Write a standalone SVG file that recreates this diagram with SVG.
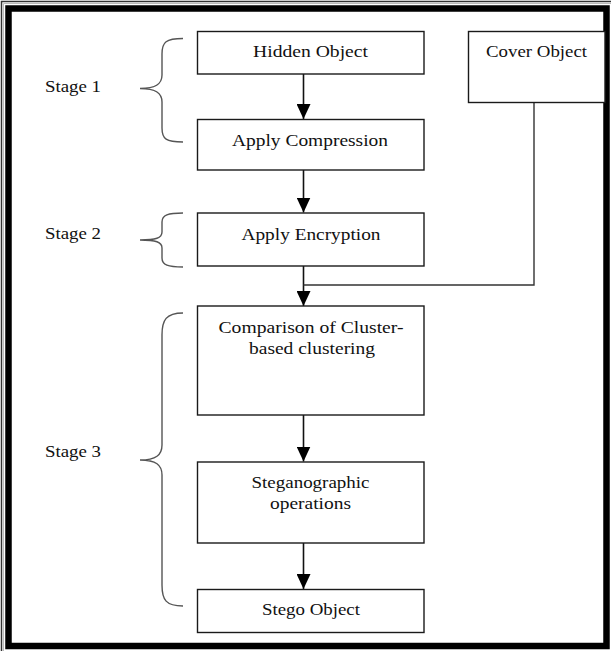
<svg xmlns="http://www.w3.org/2000/svg" width="611" height="651" viewBox="0 0 611 651">
<style>
.box{fill:#fff;stroke:#1a1a1a;stroke-width:1.4}
.lbl{font-family:"Liberation Serif","Times New Roman",serif;font-size:17px;fill:#111;text-anchor:middle}
.stg{font-family:"Liberation Serif","Times New Roman",serif;font-size:17px;fill:#111}
.con{fill:none;stroke:#111;stroke-width:1.6}
.brace{fill:none;stroke:#555;stroke-width:1.4}
</style>
<defs>
<marker id="ah" markerUnits="userSpaceOnUse" markerWidth="16" markerHeight="14" refX="15" refY="7" orient="auto" viewBox="0 0 16 14">
<path d="M0,0 L15,7 L0,14 Z" fill="#000"/>
</marker>
</defs>
<rect x="0" y="0" width="611" height="651" fill="#fff"/>
<g id="frame">
<path d="M1.5,651 L1.5,1.5 L611,1.5" fill="none" stroke="#333" stroke-width="1.5"/>
<path d="M3.5,651 L3.5,3.5 L611,3.5" fill="none" stroke="#bbb" stroke-width="1"/>
<rect x="8.5" y="8.5" width="598" height="637.5" fill="none" stroke="#000" stroke-width="6.5"/>
</g>
<g id="connectors">
<line class="con" x1="303.5" y1="74" x2="303.5" y2="119" marker-end="url(#ah)"/>
<line class="con" x1="303.5" y1="170" x2="303.5" y2="212.5" marker-end="url(#ah)"/>
<line class="con" x1="303.5" y1="266" x2="303.5" y2="306" marker-end="url(#ah)"/>
<line class="con" x1="303.5" y1="415" x2="303.5" y2="461.5" marker-end="url(#ah)"/>
<line class="con" x1="303.5" y1="543" x2="303.5" y2="589" marker-end="url(#ah)"/>
<path class="con" d="M534,103 L534,285 L303.5,285" style="stroke:#333;stroke-width:1.4"/>
</g>
<g id="brace1">
<path class="brace" d="M183,38.5 C166,38.5 162,42 162,54 L162,75 C162,84 156,88.5 140,88.5 C156,88.5 162,93 162,102 L162,128 C162,139 166,142 183,142"/>
<text class="stg" x="45" y="92" textLength="56" lengthAdjust="spacingAndGlyphs">Stage 1</text>
</g>
<g id="brace2">
<path class="brace" d="M183,213 C168,213 162,215 162,222 L162,232 C162,238 156,240 140,240 C156,240 162,242 162,248 L162,258 C162,265 168,267 183,267"/>
<text class="stg" x="45" y="239" textLength="56" lengthAdjust="spacingAndGlyphs">Stage 2</text>
</g>
<g id="brace3">
<path class="brace" d="M183,313 C166,313 162,320 162,335 L162,445 C162,455 156,460 140,460 C156,460 162,465 162,475 L162,585 C162,600 166,606 183,606"/>
<text class="stg" x="45" y="457" textLength="56" lengthAdjust="spacingAndGlyphs">Stage 3</text>
</g>
<g id="hidden">
<rect class="box" x="197.5" y="31.5" width="226.5" height="42.5"/>
<text class="lbl" x="310.5" y="57" textLength="115" lengthAdjust="spacingAndGlyphs">Hidden Object</text>
</g>
<g id="cover">
<rect class="box" x="468.5" y="31.5" width="136.5" height="71"/>
<text class="lbl" x="536.5" y="57" textLength="101" lengthAdjust="spacingAndGlyphs">Cover Object</text>
</g>
<g id="compression">
<rect class="box" x="197.5" y="119.5" width="226.5" height="50.5"/>
<text class="lbl" x="310" y="146" textLength="156" lengthAdjust="spacingAndGlyphs">Apply Compression</text>
</g>
<g id="encryption">
<rect class="box" x="197.5" y="213" width="226.5" height="53"/>
<text class="lbl" x="311" y="239.5" textLength="139" lengthAdjust="spacingAndGlyphs">Apply Encryption</text>
</g>
<g id="comparison">
<rect class="box" x="197.5" y="306" width="226.5" height="109"/>
<text class="lbl" x="311" y="333" textLength="185" lengthAdjust="spacingAndGlyphs">Comparison of Cluster-</text>
<text class="lbl" x="312" y="354" textLength="126" lengthAdjust="spacingAndGlyphs">based clustering</text>
</g>
<g id="stegano">
<rect class="box" x="197.5" y="462" width="226.5" height="81"/>
<text class="lbl" x="310.5" y="487.5" textLength="118" lengthAdjust="spacingAndGlyphs">Steganographic</text>
<text class="lbl" x="310.5" y="508.5" textLength="81" lengthAdjust="spacingAndGlyphs">operations</text>
</g>
<g id="stego">
<rect class="box" x="197.5" y="589.5" width="226.5" height="43"/>
<text class="lbl" x="311" y="615" textLength="98" lengthAdjust="spacingAndGlyphs">Stego Object</text>
</g>
</svg>
